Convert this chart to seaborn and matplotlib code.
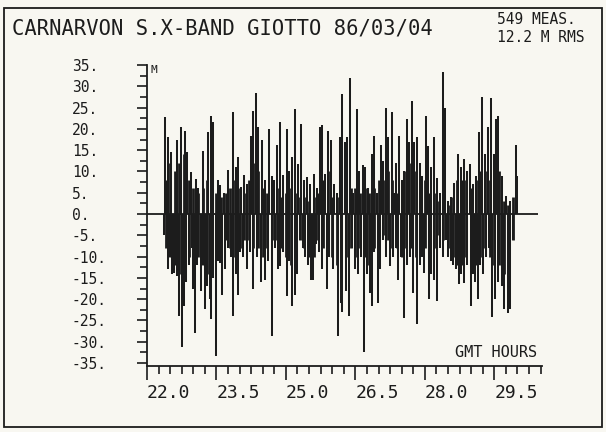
import matplotlib
matplotlib.use("Agg")
import matplotlib.pyplot as plt
from matplotlib.patches import Rectangle
from matplotlib.ticker import MultipleLocator
import seaborn as sns

# texts
TITLE = "CARNARVON S.X-BAND GIOTTO 86/03/04"
NOTE_COUNT = "549 MEAS."
NOTE_RMS = "12.2 M RMS"
X_LABEL = "GMT HOURS"
Y_UNIT = "M"

X_TICKS = [22.0, 23.5, 25.0, 26.5, 28.0, 29.5]
X_TICK_LABELS = ["22.0", "23.5", "25.0", "26.5", "28.0", "29.5"]
Y_TICKS = [35, 30, 25, 20, 15, 10, 5, 0, -5, -10, -15, -20, -25, -30, -35]
Y_TICK_LABELS = ["35.", "30.", "25.", "20.", "15.", "10.", "5.", "0.", "-5.",
                 "-10.", "-15.", "-20.", "-25.", "-30.", "-35."]

# residual spikes above zero (hour, metres)
UP_HOURS = [22.39, 22.45, 22.52, 22.64, 22.73, 22.83, 22.87, 22.94, 23.05, 23.10,
            23.20, 23.32, 23.38, 23.42, 23.53, 23.58, 23.66, 23.76, 23.86, 23.92,
            23.97, 24.03, 24.10, 24.16, 24.25, 24.30, 24.35, 24.40, 24.49, 24.55,
            24.64, 24.70, 24.74, 24.80, 24.87, 24.93, 25.02, 25.07, 25.13, 25.20,
            25.27, 25.33, 25.39, 25.45, 25.52, 25.61, 25.67, 25.74, 25.79, 25.84,
            25.92, 25.97, 26.04, 26.10, 26.17, 26.22, 26.28, 26.33, 26.38, 26.45,
            26.53, 26.58, 26.66, 26.71, 26.77, 26.85, 26.91, 26.97, 27.05, 27.10,
            27.16, 27.21, 27.29, 27.33, 27.38, 27.44, 27.51, 27.55, 27.62, 27.66,
            27.72, 27.77, 27.84, 27.90, 27.94, 28.03, 28.07, 28.13, 28.20, 28.26,
            28.33, 28.39, 28.43, 28.50, 28.57, 28.63, 28.72, 28.78, 28.85, 28.91,
            28.98, 29.04, 29.11, 29.16, 29.24, 29.30, 29.37, 29.44, 29.49, 29.54,
            29.59, 29.67, 29.75, 29.84, 29.96, 29.99]
UP_METRES = [22.7, 18.0, 14.5, 17.5, 20.4, 19.6, 14.5, 9.9, 8.3, 6.0,
             14.9, 19.2, 23.1, 21.5, 7.9, 6.8, 5.0, 10.3, 23.9, 11.0,
             13.4, 6.4, 9.1, 7.0, 18.4, 24.3, 28.5, 20.4, 17.3, 8.0,
             20.0, 9.0, 7.9, 16.1, 21.5, 9.1, 20.0, 10.0, 13.4, 24.7,
             11.8, 21.2, 8.0, 8.7, 7.0, 9.5, 6.0, 20.4, 20.8, 9.5,
             19.6, 17.3, 7.0, 5.0, 18.0, 28.1, 17.0, 18.0, 32.0, 5.0,
             24.7, 10.0, 11.4, 11.0, 6.0, 14.1, 18.4, 5.0, 16.1, 12.5,
             25.0, 18.0, 23.9, 5.0, 12.0, 18.4, 8.0, 10.0, 22.3, 17.0,
             26.6, 17.0, 18.0, 12.0, 9.0, 23.1, 16.0, 11.0, 18.0, 8.5,
             5.0, 33.4, 25.0, 3.0, 4.0, 7.2, 14.1, 11.0, 13.0, 10.0,
             11.8, 7.0, 9.0, 19.2, 27.6, 14.0, 20.4, 27.2, 14.0, 22.3,
             23.1, 9.0, 4.2, 3.0, 16.1, 9.0]

# residual spikes below zero (hour, metres)
DOWN_HOURS = [22.37, 22.45, 22.50, 22.54, 22.58, 22.64, 22.69, 22.75, 22.80, 22.84,
              22.91, 22.97, 23.00, 23.03, 23.08, 23.16, 23.21, 23.25, 23.30, 23.35,
              23.38, 23.43, 23.48, 23.53, 23.58, 23.62, 23.68, 23.75, 23.81, 23.86,
              23.92, 23.97, 24.01, 24.07, 24.17, 24.22, 24.30, 24.38, 24.46, 24.54,
              24.61, 24.71, 24.76, 24.83, 24.88, 24.94, 25.02, 25.07, 25.13, 25.19,
              25.24, 25.30, 25.37, 25.41, 25.48, 25.54, 25.59, 25.65, 25.71, 25.79,
              25.88, 25.93, 26.02, 26.13, 26.18, 26.22, 26.30, 26.37, 26.43, 26.49,
              26.56, 26.62, 26.69, 26.75, 26.82, 26.85, 26.90, 26.98, 27.03, 27.10,
              27.16, 27.25, 27.31, 27.38, 27.43, 27.49, 27.56, 27.62, 27.68, 27.75,
              27.84, 27.90, 27.94, 27.99, 28.08, 28.13, 28.20, 28.27, 28.33, 28.39,
              28.46, 28.51, 28.57, 28.61, 28.67, 28.73, 28.78, 28.85, 28.91, 28.99,
              29.04, 29.08, 29.14, 29.19, 29.26, 29.32, 29.39, 29.45, 29.52, 29.58,
              29.66, 29.72, 29.80, 29.85, 29.90]
DOWN_METRES = [-5.0, -13.0, -10.0, -14.0, -13.8, -14.6, -24.0, -31.3, -21.6, -16.0,
               -12.0, -8.0, -17.7, -28.0, -12.0, -18.0, -12.0, -22.4, -17.0, -20.0,
               -24.7, -15.0, -33.3, -11.0, -11.5, -19.0, -13.0, -8.0, -10.0, -24.0,
               -14.0, -19.0, -9.0, -10.0, -13.0, -9.0, -17.7, -10.0, -16.0, -15.4,
               -11.0, -28.6, -8.0, -13.0, -12.3, -9.0, -19.3, -11.0, -21.6, -19.0,
               -14.0, -6.0, -8.0, -10.0, -12.0, -15.4, -15.4, -7.0, -9.0, -13.0,
               -17.7, -10.0, -13.0, -28.6, -20.8, -23.0, -18.0, -24.0, -8.0, -13.0,
               -14.0, -10.0, -32.5, -14.0, -18.5, -21.6, -9.0, -20.8, -13.0, -6.0,
               -10.0, -12.3, -10.0, -8.0, -15.4, -10.0, -24.5, -12.0, -10.0, -18.5,
               -25.8, -12.0, -10.0, -13.8, -20.0, -14.0, -15.4, -20.4, -8.0, -10.0,
               -6.0, -10.0, -11.0, -12.0, -13.0, -16.5, -14.0, -16.1, -12.0, -21.5,
               -14.0, -16.0, -20.0, -12.0, -14.0, -10.0, -8.0, -24.2, -20.0, -16.0,
               -17.0, -22.4, -23.2, -22.4, -6.0]

# shorter measurements that pile up near zero
CORE_HOURS = [22.4, 22.5, 22.6, 22.7, 22.8, 22.9, 23.0, 23.1, 23.2, 23.3,
              23.4, 23.5, 23.6, 23.7, 23.8, 23.9, 24.0, 24.1, 24.2, 24.3,
              24.4, 24.5, 24.6, 24.7, 24.8, 24.9, 25.0, 25.1, 25.2, 25.3,
              25.4, 25.5, 25.6, 25.7, 25.8, 25.9, 26.0, 26.1, 26.2, 26.3,
              26.4, 26.5, 26.6, 26.7, 26.8, 26.9, 27.0, 27.1, 27.2, 27.3,
              27.4, 27.5, 27.6, 27.7, 27.8, 27.9, 28.0, 28.1, 28.2, 28.3,
              28.4, 28.5, 28.6, 28.7, 28.8, 28.9, 29.0, 29.1, 29.2, 29.3,
              29.4, 29.5, 29.6, 29.7, 29.8, 29.9]
CORE_HIGH = [8, 12, 10, 12, 14, 8, 6, 5, 6, 8,
             8, 5, 4, 5, 6, 8, 6, 5, 8, 12,
             10, 6, 5, 5, 6, 4, 5, 6, 5, 4,
             4, 3, 4, 5, 8, 10, 4, 4, 10, 12,
             6, 6, 5, 6, 5, 6, 8, 8, 10, 8,
             5, 4, 10, 12, 10, 6, 8, 5, 5, 3,
             2, 2, 4, 8, 8, 8, 6, 8, 10, 10,
             8, 10, 10, 3, 2, 4]
CORE_LOW = [-8, -10, -12, -14, -12, -10, -12, -10, -12, -14,
            -10, -8, -8, -6, -8, -10, -8, -6, -6, -8,
            -8, -10, -8, -6, -6, -8, -10, -12, -10, -6,
            -8, -10, -10, -6, -8, -8, -10, -12, -12, -10,
            -8, -10, -8, -10, -12, -8, -6, -5, -6, -8,
            -8, -10, -8, -8, -10, -8, -8, -10, -8, -5,
            -6, -8, -10, -12, -12, -10, -12, -12, -10, -8,
            -10, -12, -12, -14, -14, -6]

INK = "#1c1c1c"
PAPER = "#f8f7f1"

sns.set_theme(style="ticks")
plt.rcParams["font.family"] = ["DejaVu Sans Mono", "DejaVu Sans"]

fig = plt.figure(figsize=(6.06, 4.32), dpi=100, facecolor=PAPER)
ax = fig.add_axes([147 / 606, 1 - 366 / 432, 395 / 606, 301 / 432])
ax.set_facecolor(PAPER)

# residuals drawn as spikes from the zero line
ax.vlines(CORE_HOURS, CORE_LOW, CORE_HIGH, color=INK, lw=2.0)
ax.vlines(UP_HOURS, 0, UP_METRES, color=INK, lw=1.45)
ax.vlines(DOWN_HOURS, DOWN_METRES, 0, color=INK, lw=1.45)
ax.hlines(0, 22.0, 30.45, color=INK, lw=1.3)

ax.set_xlim(22.0, 22.0 + 395 / 46.3)
ax.set_ylim(-35.7, 35)
sns.despine(ax=ax)
for side in ["left", "bottom"]:
    ax.spines[side].set_color(INK)
    ax.spines[side].set_linewidth(1.3)

ax.set_yticks(Y_TICKS)
ax.set_yticklabels(Y_TICK_LABELS)
ax.yaxis.set_minor_locator(MultipleLocator(2.5))
ax.tick_params(axis="y", which="major", length=7.5, width=1.2, color=INK,
               labelsize=10.5, labelcolor=INK, pad=46.5)
ax.tick_params(axis="y", which="minor", length=5, width=1.2, color=INK)
for lab in ax.get_yticklabels():
    lab.set_horizontalalignment("left")

ax.set_xticks(X_TICKS)
ax.set_xticklabels(X_TICK_LABELS)
ax.xaxis.set_minor_locator(MultipleLocator(0.25))
ax.tick_params(axis="x", which="major", length=10, width=1.2, color=INK,
               labelsize=13, labelcolor=INK, pad=3)
ax.tick_params(axis="x", which="minor", length=6, width=1.2, color=INK)
for lab in ax.get_xticklabels():
    lab.set_horizontalalignment("left")

ax.text(22.07, 35, Y_UNIT, ha="left", va="top", fontsize=8, color=INK)
ax.text(30.42, -32.6, X_LABEL, ha="right", va="center", fontsize=11, color=INK)

fig.text(12 / 606, 1 - 28 / 432, TITLE, ha="left", va="center", fontsize=14.8, color=INK)
fig.text(497 / 606, 1 - 19 / 432, NOTE_COUNT, ha="left", va="center", fontsize=10.5, color=INK)
fig.text(497 / 606, 1 - 37 / 432, NOTE_RMS, ha="left", va="center", fontsize=10.5, color=INK)

# frame around the plotter sheet
fig.patches.append(Rectangle((4 / 606, 1 - 427 / 432), 598 / 606, 419 / 432,
                             transform=fig.transFigure, fill=False,
                             edgecolor=INK, lw=1.3))

fig.savefig("out.png", dpi=100, facecolor=PAPER)
